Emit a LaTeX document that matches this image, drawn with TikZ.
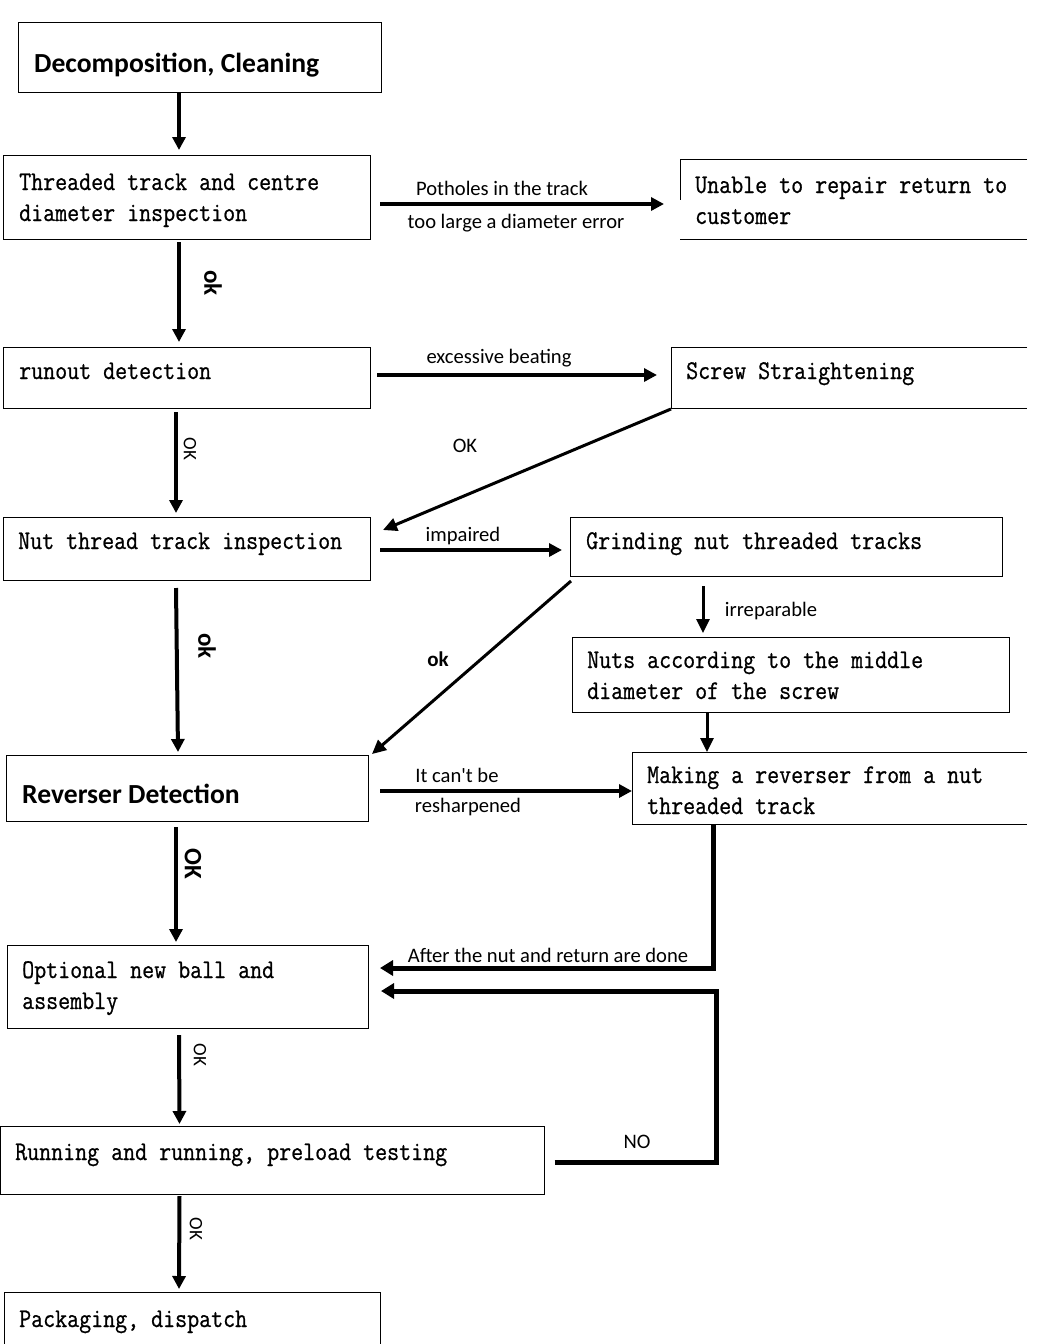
\documentclass[tikz,border=0pt]{standalone}
\usepackage{fontspec}
\usetikzlibrary{arrows.meta,calc}
\newfontfamily\boxfont{Latin Modern Mono}[FakeStretch=0.863,FakeBold=0.7]
\newfontfamily\labfont{Carlito}
\tikzset{
  box/.style={draw=black,line width=1pt,inner sep=0pt,outer sep=0pt,anchor=north west},
  ghost/.style={inner sep=0pt,outer sep=0pt,anchor=north west},
  frame/.style={draw=black,line width=1pt},
  bt/.style={anchor=base west,inner sep=0pt,font=\boxfont\fontsize{27}{30}\selectfont},
  title/.style={anchor=base west,inner sep=0pt,font=\labfont\bfseries\fontsize{27.6}{30}\selectfont},
  lab/.style={inner sep=0pt,font=\labfont\fontsize{20.6}{23}\selectfont},
  rlab/.style={inner sep=0pt,rotate=-90,font=\labfont\fontsize{19}{22}\selectfont},
  rlabb/.style={inner sep=0pt,rotate=-90,font=\labfont\bfseries\fontsize{25}{27}\selectfont},
  arr/.style={line width=4pt,-{Triangle[length=13pt,width=13pt]}},
  tarr/.style={line width=3pt,-{Triangle[length=14pt,width=13pt]}},
  elbow/.style={line width=5pt,-{Triangle[length=13pt,width=15pt]}}
}
\begin{document}
\begin{tikzpicture}[x=1pt,y=-1pt]
\useasboundingbox (0,0) rectangle (1041,1344);
\fill[white] (0,0) rectangle (1041,1344);
\clip (0,0) rectangle (1041,1344);
% ---------- boxes ----------
\node[box,minimum width=363pt,minimum height=70pt] (dec) at (18,22) {};
\node[box,minimum width=367pt,minimum height=84pt] (thr) at (3,155) {};
\node[box,minimum width=367pt,minimum height=61pt] (run) at (3,347) {};
\node[box,minimum width=367pt,minimum height=63pt] (nut) at (3,517) {};
\node[box,minimum width=362pt,minimum height=66pt] (rev) at (6,755) {};
\node[box,minimum width=361pt,minimum height=83pt] (opt) at (7,945) {};
\node[box,minimum width=544pt,minimum height=68pt] (rng) at (0.5,1126) {};
\node[box,minimum width=376pt,minimum height=70pt] (pkg) at (4,1292) {};
\node[box,minimum width=432pt,minimum height=59pt] (grd) at (570,517) {};
\node[box,minimum width=437pt,minimum height=75pt] (nts) at (572,637) {};
% open boxes (right side cut off)
\node[ghost,minimum width=347pt,minimum height=80pt] (una) at (680,159) {};
\node[ghost,minimum width=356pt,minimum height=61pt] (scr) at (671,347) {};
\node[ghost,minimum width=395pt,minimum height=72pt] (mak) at (632,752) {};
\draw[frame] (una.north east) -- (una.north west) -- ([shift={(0,41)}]una.north west);
\draw[frame] (una.south west) -- (una.south east);
\draw[frame] (scr.north east) -- (scr.north west) -- (scr.south west) -- (scr.south east);
\draw[frame] (mak.north east) -- (mak.north west) -- (mak.south west) -- (mak.south east);
% ---------- texts ----------
\node[title] (decT) at (34,72) {Decomposition, Cleaning};
\node[bt] (thrT1) at (19,190) {Threaded track and centre};
\node[bt] (thrT2) at (19,221) {diameter inspection};
\node[bt] (runT) at (19,379) {runout detection};
\node[bt] (nutT) at (18,549) {Nut thread track inspection};
\node[title] (revT) at (22,803) {Reverser Detection};
\node[bt] (optT1) at (22,978) {Optional new ball and};
\node[bt] (optT2) at (22,1009) {assembly};
\node[bt] (rngT) at (15,1160) {Running and running,\hspace{12pt}preload testing};
\node[bt] (pkgT) at (19,1327) {Packaging,\hspace{12pt}dispatch};
\node[bt] (unaT1) at (695,193) {Unable to repair return to};
\node[bt] (unaT2) at (695,224) {customer};
\node[bt] (scrT) at (686,379) {Screw Straightening};
\node[bt] (grdT) at (586,549) {Grinding nut threaded tracks};
\node[bt] (ntsT1) at (587,668) {Nuts according to the middle};
\node[bt] (ntsT2) at (587,699) {diameter of the screw};
\node[bt] (makT1) at (647,783) {Making a reverser from a nut};
\node[bt] (makT2) at (647,814) {threaded track};
% ---------- vertical main flow ----------
\draw[arr] ([shift={(161,1)}]dec.south west) -- ([shift={(176,-5)}]thr.north west);
\draw[arr] ([shift={(176,3)}]thr.south west) -- ([shift={(176,-5)}]run.north west);
\node[rlabb] (l1) at (213,283) {ok};
\draw[arr] ([shift={(173,4)}]run.south west) -- ([shift={(173,-4)}]nut.north west);
\node[rlab] (l2) at (190,449) {OK};
\draw[arr] ([shift={(173,8)}]nut.south west) -- ([shift={(172,-3)}]rev.north west);
\node[rlabb] (l3) at (207,646) {ok};
\draw[arr] ([shift={(170,6)}]rev.south west) -- ([shift={(169,-3)}]opt.north west);
\node[rlabb] (l4) at (193,864) {OK};
\draw[arr] ([shift={(172,7)}]opt.south west) -- ([shift={(179,-2)}]rng.north west);
\node[rlab] (l5) at (200,1055) {OK};
\draw[arr] ([shift={(179,2)}]rng.south west) -- ([shift={(175,-3)}]pkg.north west);
\node[rlab] (l6) at (196,1229) {OK};
% ---------- side branches ----------
\draw[arr] ([shift={(10,49)}]thr.north east) -- ([shift={(-16,45)}]una.north west);
\node[lab] (p1) at (502,188) {Potholes in the track};
\node[lab] (p2) at (516,223) {too large a diameter error};
\draw[arr] ([shift={(7,28)}]run.north east) -- ([shift={(-14,28)}]scr.north west);
\node[lab] (p3) at (499,358) {excessive beating};
\draw[tarr] ([shift={(0,1)}]scr.south west) -- ([shift={(13,13)}]nut.north east);
\node[lab] (p4) at (465,446) {OK};
\draw[arr] ([shift={(10,33)}]nut.north east) -- ([shift={(-8,33)}]grd.north west);
\node[lab] (p5) at (463,536) {impaired};
\draw[tarr] ([shift={(1,5)}]grd.south west) -- ([shift={(4,-1)}]rev.north east);
\node[lab,font=\labfont\bfseries\fontsize{21}{23}\selectfont] (p6) at (438,659) {ok};
\draw[tarr] ([shift={(133,10)}]grd.south west) -- ([shift={(131,-4)}]nts.north west);
\node[lab] (p7) at (771,611) {irreparable};
\draw[tarr] ([shift={(135,0)}]nts.south west) -- ([shift={(75,0)}]mak.north west);
\draw[arr] ([shift={(12,36)}]rev.north east) -- ([shift={(0,39)}]mak.north west);
\node[lab] (p8) at (457,775) {It can't be};
\node[lab] (p9) at (468,807) {resharpened};
\draw[elbow] ([shift={(81,0)}]mak.south west) |- ([shift={(12,23)}]opt.north east);
\node[lab] (p10) at (548,955) {After the nut and return are done};
\coordinate (noc) at ([shift={(172,36)}]rng.north east);
\draw[elbow] ([shift={(10,36)}]rng.north east) -- (noc) |- ([shift={(13,46)}]opt.north east);
\node[lab] (p11) at (637,1142) {NO};
\end{tikzpicture}
\end{document}
